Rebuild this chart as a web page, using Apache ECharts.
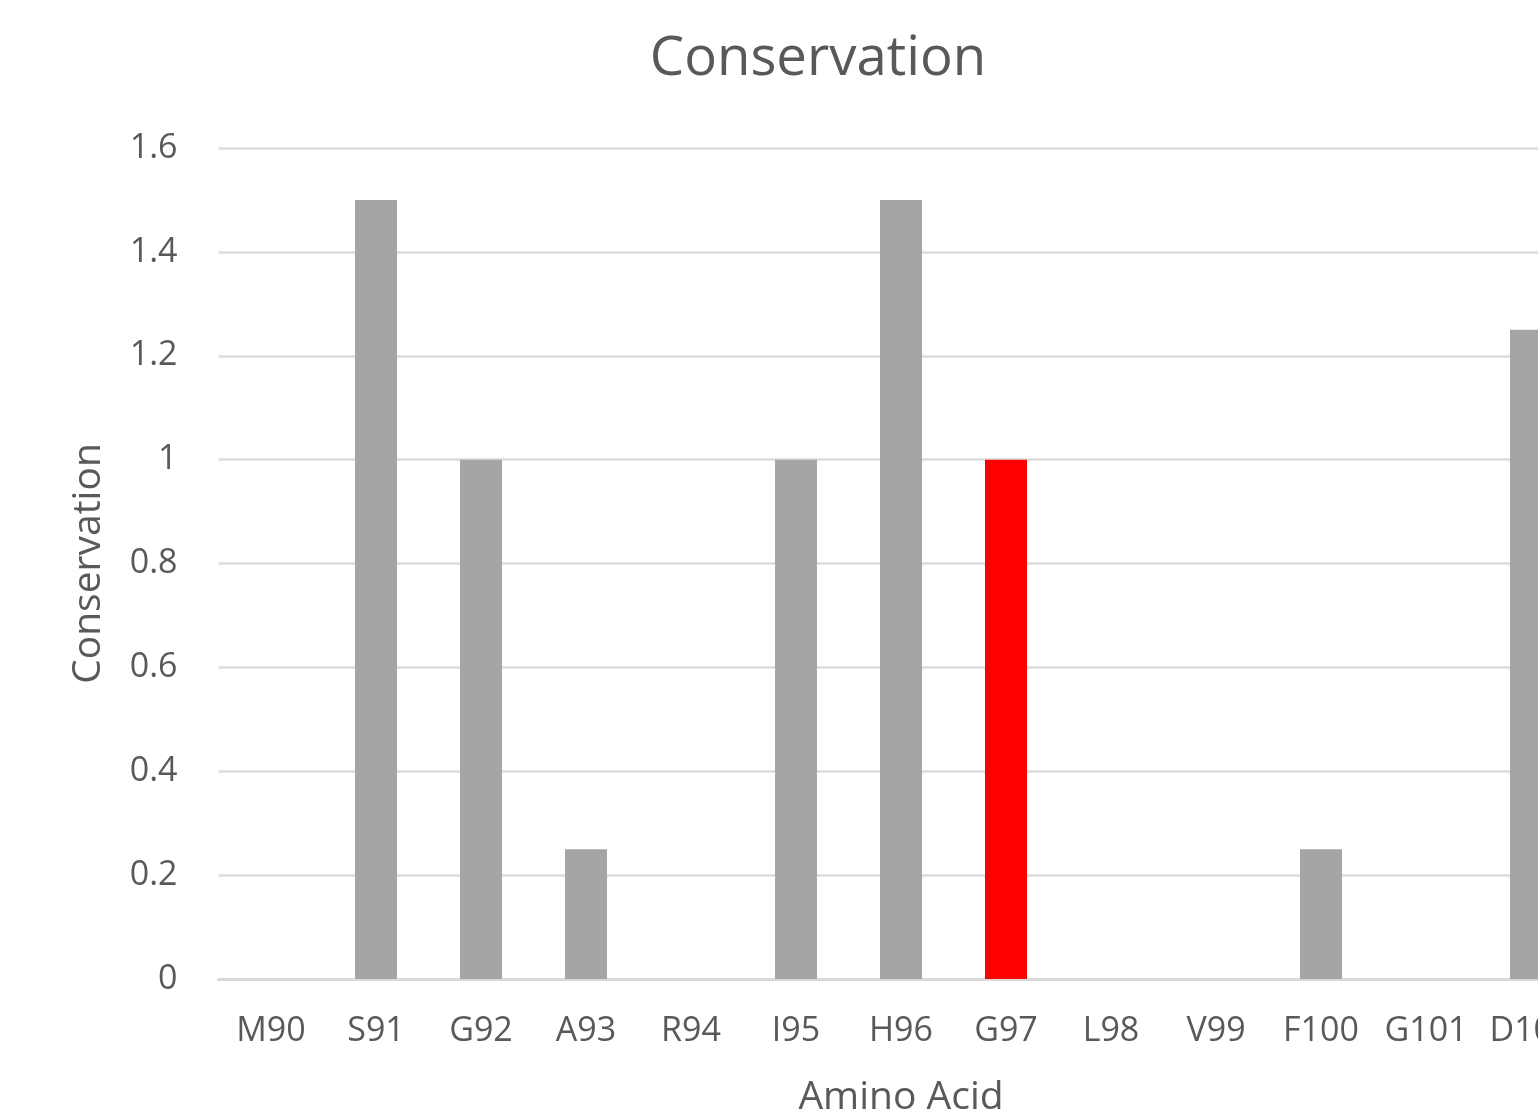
<!DOCTYPE html>
<html>
<head>
<meta charset="utf-8">
<script src="https://cdn.jsdelivr.net/npm/echarts@6/dist/echarts.min.js"></script>
<style>
html,body{margin:0;padding:0;overflow:hidden;background:#fff;}
#chart{width:1636px;height:1113px;}
</style>
</head>
<body>
<div id="chart"></div>
<script>
const categories = ['M90','S91','G92','A93','R94','I95','H96','G97','L98','V99','F100','G101','D102'];
const values = [0, 1.5, 1, 0.25, 0, 1, 1.5, 1, 0, 0, 0.25, 0, 1.25];
const highlighted = ['G97'];
const yTicks = { min: 0, max: 1.6, interval: 0.2 };

const font = '"Open Sans", sans-serif';
const chart = echarts.init(document.getElementById('chart'), null, {renderer: 'canvas', width: 1636, height: 1113});
chart.setOption({
  animation: false,
  title: {
    text: 'Conservation',
    left: 'center',
    top: 27,
    textStyle: { fontFamily: font, fontSize: 54.5, fontWeight: 'normal', color: '#595959' }
  },
  grid: { left: 218.5, width: 1365, top: 148, height: 831, containLabel: false, outerBoundsMode: 'none' },
  xAxis: {
    type: 'category',
    data: categories,
    name: 'Amino Acid',
    nameLocation: 'middle',
    nameGap: 99,
    nameTextStyle: { fontFamily: font, fontSize: 39, color: '#595959' },
    axisLine: { lineStyle: { color: '#d9d9d9', width: 3 } },
    axisTick: { show: false },
    axisLabel: { fontFamily: font, fontSize: 34, color: '#595959', margin: 35, interval: 0 }
  },
  yAxis: {
    type: 'value',
    min: yTicks.min,
    max: yTicks.max,
    interval: yTicks.interval,
    name: 'Conservation',
    nameLocation: 'middle',
    nameGap: 110,
    nameTextStyle: { fontFamily: font, fontSize: 39, color: '#595959' },
    axisLine: { show: false },
    axisTick: { show: false },
    splitLine: { lineStyle: { color: '#dcdcdc', width: 2.5 } },
    axisLabel: {
      fontFamily: font, fontSize: 34, color: '#595959', margin: 41,
      formatter: v => String(Math.round(v * 10) / 10)
    }
  },
  series: [{
    type: 'bar',
    barWidth: 42,
    data: values.map((v, i) => ({
      value: v,
      itemStyle: { color: highlighted.includes(categories[i]) ? '#ff0000' : '#a5a5a5' }
    }))
  }]
});
</script>
</body>
</html>
